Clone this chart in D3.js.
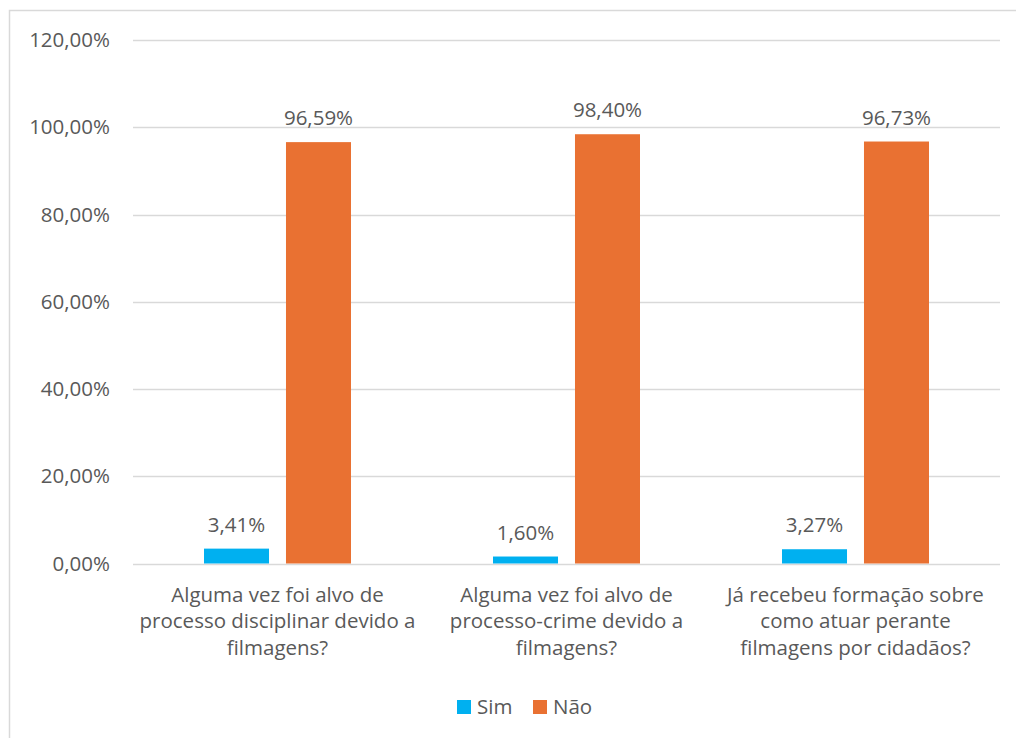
<!DOCTYPE html>
<html>
<head>
<meta charset="utf-8">
<script src="https://cdn.jsdelivr.net/npm/d3@7"></script>
<style>
  body { margin: 0; background: #fff; }
  text { font-family: "Open Sans", sans-serif; fill: #595959; }
</style>
</head>
<body>
<div id="chart"></div>
<script>
// data
const categories = [
  ["Alguma vez foi alvo de", "processo disciplinar devido a", "filmagens?"],
  ["Alguma vez foi alvo de", "processo-crime devido a", "filmagens?"],
  ["Já recebeu formação sobre", "como atuar perante", "filmagens por cidadãos?"]
];
const seriesNames = ["Sim", "Não"];
const simValues = [3.41, 1.60, 3.27];
const naoValues = [96.59, 98.40, 96.73];
const yTicks = [0, 20, 40, 60, 80, 100, 120];
const colors = ["#00b0f0", "#e97132"];

const W = 1016, H = 738;
const margin = {top: 40, right: 16, bottom: 174.5, left: 133};
const width = W - margin.left - margin.right,
      height = H - margin.top - margin.bottom;
const fontSize = "20.5px";

const svgRoot = d3.select("#chart").append("svg")
  .attr("width", W).attr("height", H);

// chart border
svgRoot.append("rect")
  .attr("x", 9.5).attr("y", 10.5)
  .attr("width", 1020).attr("height", 740)
  .attr("fill", "none").attr("stroke", "#d9d9d9").attr("stroke-width", 1.5);

const svg = svgRoot.append("g")
  .attr("transform", `translate(${margin.left}, ${margin.top})`);

const fmt = v => d3.format(".2f")(v).replace(".", ",") + "%";

const y = d3.scaleLinear().domain([0, 120]).range([height, 0]);
const x0 = d3.scaleBand().domain(d3.range(categories.length)).range([0, width]).padding(0);
const groupW = 147;
const x1 = d3.scaleBand().domain(seriesNames)
  .range([(x0.bandwidth() - groupW) / 2, (x0.bandwidth() + groupW) / 2])
  .paddingInner(0.207).paddingOuter(0);

// gridlines
svg.append("g")
  .selectAll("line")
  .data(yTicks)
  .join("line")
    .attr("x1", 0).attr("x2", width)
    .attr("y1", d => Math.round(y(d)) + 0.5).attr("y2", d => Math.round(y(d)) + 0.5)
    .attr("stroke", "#d9d9d9").attr("stroke-width", 1.3);

// y axis labels
const yAxis = svg.append("g")
  .call(d3.axisLeft(y).tickValues(yTicks).tickSize(0).tickPadding(23).tickFormat(fmt));
yAxis.select(".domain").remove();
yAxis.selectAll("text").style("font-size", fontSize).attr("fill", "#595959")
  .style("font-family", "'Open Sans', sans-serif");

const rows = categories.map((c, i) => ({i, vals: [simValues[i], naoValues[i]]}));

const groups = svg.selectAll("g.cat")
  .data(rows)
  .join("g")
    .attr("class", "cat")
    .attr("transform", d => `translate(${x0(d.i)},0)`);

groups.selectAll("rect")
  .data(d => d.vals.map((v, k) => ({k, v})))
  .join("rect")
    .attr("x", d => x1(seriesNames[d.k]))
    .attr("y", d => y(d.v))
    .attr("width", x1.bandwidth())
    .attr("height", d => height - y(d.v))
    .attr("fill", d => colors[d.k]);

groups.selectAll("text.val")
  .data(d => d.vals.map((v, k) => ({k, v})))
  .join("text")
    .attr("class", "val")
    .attr("x", d => x1(seriesNames[d.k]) + x1.bandwidth() / 2)
    .attr("y", d => y(d.v) - 17)
    .attr("text-anchor", "middle")
    .style("font-size", fontSize)
    .text(d => fmt(d.v));

// category labels
groups.append("text")
  .attr("text-anchor", "middle")
  .style("font-size", fontSize)
  .selectAll("tspan")
  .data(d => categories[d.i])
  .join("tspan")
    .attr("x", x0.bandwidth() / 2)
    .attr("y", (d, j) => height + 38 + j * 26.5)
    .text(d => d);

// legend
const legend = svgRoot.append("g").attr("transform", "translate(457, 700)");
const legendX = [0, 76];
seriesNames.forEach((s, k) => {
  legend.append("rect")
    .attr("x", legendX[k]).attr("y", 0)
    .attr("width", 14).attr("height", 14)
    .attr("fill", colors[k]);
  legend.append("text")
    .attr("x", legendX[k] + 20).attr("y", 14)
    .style("font-size", fontSize)
    .text(s);
});
</script>
</body>
</html>
